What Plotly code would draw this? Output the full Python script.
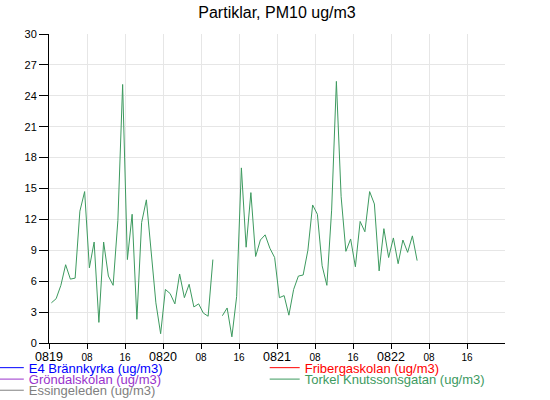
import pandas as pd
import plotly.graph_objects as go

# hourly PM10, Torkel Knutssonsgatan (one missing hour)
times = pd.date_range("2021-08-19 00:30", periods=78, freq="h")
torkel = [
    3.9, 4.3, 5.6, 7.6, 6.2, 6.3, 12.8, 14.7, 7.3, 9.8,
    2.0, 9.8, 6.5, 5.6, 11.9, 25.1, 8.1, 12.5, 2.3, 11.7,
    13.9, 8.5, 3.9, 0.9, 5.2, 4.8, 3.8, 6.7, 4.4, 5.7,
    3.5, 3.8, 2.9, 2.6, 8.1, None, 2.65, 3.4, 0.6, 4.5,
    17.0, 9.3, 14.6, 8.4, 10.0, 10.5, 9.2, 8.3, 4.4, 4.6,
    2.7, 5.2, 6.5, 6.6, 9.0, 13.4, 12.5, 7.5, 5.6, 12.9,
    25.4, 14.2, 8.9, 10.1, 7.4, 11.8, 10.8, 14.7, 13.5, 7.0,
    11.1, 8.3, 10.2, 7.7, 10.0, 8.8, 10.4, 8.0,
]
e4_brannkyrka = []
fribergaskolan = []
grondalskolan = []
essingeleden = []

# name, data, colour, legend slot (column, row)
stations = [
    ("E4 Brännkyrka (ug/m3)", e4_brannkyrka, "#0000ff", (0, 0)),
    ("Fribergaskolan (ug/m3)", fribergaskolan, "#ff0000", (1, 0)),
    ("Gröndalskolan (ug/m3)", grondalskolan, "#9933cc", (0, 1)),
    ("Torkel Knutssonsgatan (ug/m3)", torkel, "#3d9a5f", (1, 1)),
    ("Essingeleden (ug/m3)", essingeleden, "#808080", (0, 2)),
]

tick_times = pd.date_range("2021-08-19 00:00", "2021-08-22 16:00", freq="8h")
tick_text = [
    f"<span style='font-size:12.5px'>{t:%m%d}</span>" if t.hour == 0 else f"{t:%H}"
    for t in tick_times
]

col_x = [-0.132, 0.473]
row_y = [-0.080, -0.117, -0.153]

fig = go.Figure()
legends = {}
for i, (name, values, color, (col, row)) in enumerate(stations):
    key = "legend" if i == 0 else f"legend{i + 1}"
    fig.add_trace(
        go.Scatter(
            x=times if values else [None],
            y=values if values else [None],
            mode="lines",
            name=f"<span style='color:{color}'>{name}</span>",
            line={"color": color, "width": 1},
            connectgaps=False,
            legend=key,
        )
    )
    legends[key] = dict(
        x=col_x[col],
        y=row_y[row],
        xanchor="left",
        yanchor="middle",
        font={"size": 13},
        bgcolor="rgba(0,0,0,0)",
    )

fig.update_layout(
    width=550,
    height=400,
    showlegend=True,
    margin={"l": 49, "r": 45, "t": 34, "b": 57, "autoexpand": False},
    paper_bgcolor="white",
    plot_bgcolor="white",
    font={"family": "Liberation Sans, Arial, sans-serif", "color": "black"},
    title={
        "text": "Partiklar, PM10 ug/m3",
        "x": 0.5,
        "xref": "paper",
        "y": 0.97,
        "yanchor": "middle",
        "font": {"size": 16},
    },
    xaxis=dict(
        type="date",
        range=["2021-08-19 00:00", "2021-08-23 00:00"],
        tickvals=tick_times,
        ticktext=tick_text,
        tickfont={"size": 10},
        ticks="outside",
        ticklen=5,
        tickcolor="black",
        showline=True,
        linecolor="black",
        showgrid=True,
        gridcolor="#e6e6e6",
        zeroline=False,
    ),
    yaxis=dict(
        range=[0, 30],
        tickvals=list(range(0, 31, 3)),
        tickfont={"size": 11},
        ticks="outside",
        ticklen=9,
        tickcolor="black",
        showline=True,
        linecolor="black",
        showgrid=True,
        gridcolor="#e6e6e6",
        zeroline=False,
    ),
    **legends,
)

# page body has an 8px default margin; drop it so the figure sits at 0,0
fig.write_html(
    "out.html",
    config={"displayModeBar": False},
    post_script="document.body.style.margin='0px';",
)
